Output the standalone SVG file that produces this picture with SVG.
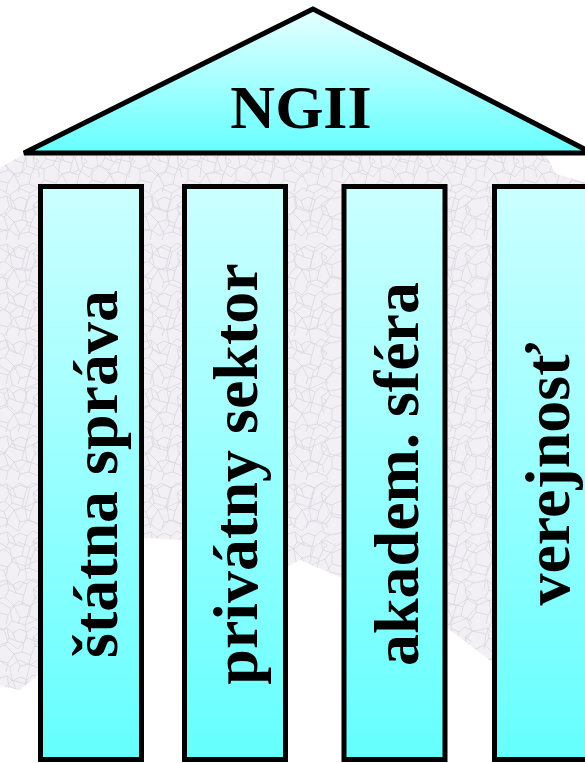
<svg xmlns="http://www.w3.org/2000/svg" width="585" height="763" viewBox="0 0 585 763">
  <defs>
    <linearGradient id="roofGrad" x1="0" y1="0" x2="0" y2="1">
      <stop offset="0" stop-color="#E6FFFF"/>
      <stop offset="1" stop-color="#66FFFF"/>
    </linearGradient>
    <linearGradient id="pillarGrad" x1="0" y1="0" x2="0" y2="1">
      <stop offset="0" stop-color="#CCFFFF"/>
      <stop offset="1" stop-color="#66FFFF"/>
    </linearGradient>
    <pattern id="mapTex" width="48" height="48" patternUnits="userSpaceOnUse">
      <rect width="48" height="48" fill="#F2F0F4"/>
      <path d="M0,6 L7,4 L13,9 L20,5 L27,8 L33,3 L41,7 L48,6 M7,4 L9,14 L5,21 L0,23 M13,9 L16,17 L9,14 M16,17 L24,19 L27,8 M24,19 L22,28 L14,30 L5,21 M22,28 L31,31 L35,22 L33,13 L41,7 M35,22 L44,25 L48,23 M31,31 L29,40 L20,42 L14,30 M29,40 L38,44 L44,36 L44,25 M38,44 L40,48 M20,42 L18,48 M44,36 L48,37 M0,37 L8,39 L14,30 M8,39 L6,48 M33,13 L39,17 L35,22" fill="none" stroke="#DEDBE2" stroke-width="1"/>
    </pattern>
    <pattern id="mapTex2" width="71" height="59" patternUnits="userSpaceOnUse">
      <path d="M0,12 L10,18 L19,11 L30,16 L41,9 L52,15 L63,10 L71,12 M10,18 L12,31 L4,40 L0,38 M12,31 L25,35 L30,16 M25,35 L27,48 L38,52 L46,41 L41,28 L52,15 M41,28 L25,35 M46,41 L60,44 L66,31 L63,10 M66,31 L71,33 M60,44 L58,59 M27,48 L18,59 M4,40 L8,52 L18,59 M38,52 L40,59 M8,52 L0,55" fill="none" stroke="#D8D5DC" stroke-width="0.9" opacity="0.8"/>
    </pattern>
    <style>
      .pillar { fill: url(#pillarGrad); stroke: #000; stroke-width: 5; }
      .roof { fill: url(#roofGrad); stroke: #000; stroke-width: 5; stroke-linejoin: miter; }
      .lbl { font-family: "Liberation Serif", "Times New Roman", serif; font-weight: bold; fill: #000; text-anchor: middle; }
    </style>
  </defs>

  <rect width="585" height="763" fill="#FFFFFF"/>

  <!-- background map texture -->
  <g id="map">
    <path id="mapShape" d="M0,168 L22,155 L546,155 L556,174 L585,182 L585,720 L492,662 L470,645 L447,628 L400,600 L342,578 L300,560 L288,566 L240,550 L182,540 L144,538 L90,600 L38,675 L20,690 L0,686 Z" fill="url(#mapTex)"/>
    <path d="M0,168 L22,155 L546,155 L556,174 L585,182 L585,720 L492,662 L470,645 L447,628 L400,600 L342,578 L300,560 L288,566 L240,550 L182,540 L144,538 L90,600 L38,675 L20,690 L0,686 Z" fill="url(#mapTex2)"/>
  </g>

  <g id="roof">
    <polygon class="roof" points="313,9 24,153 592,153"/>
    <text class="lbl" x="301" y="128" font-size="62">NGII</text>
  </g>

  <g id="pillar-statna-sprava">
    <rect class="pillar" x="40.5" y="186.5" width="101" height="573"/>
    <text class="lbl" font-size="64" transform="translate(117,474) rotate(-90)">štátna správa</text>
  </g>

  <g id="pillar-privatny-sektor">
    <rect class="pillar" x="184.5" y="186.5" width="101" height="573"/>
    <text class="lbl" font-size="64" transform="translate(257,474) rotate(-90)">privátny sektor</text>
  </g>

  <g id="pillar-akadem-sfera">
    <rect class="pillar" x="344" y="186.5" width="101" height="573"/>
    <text class="lbl" font-size="64" transform="translate(418,474) rotate(-90)">akadem. sféra</text>
  </g>

  <g id="pillar-verejnost">
    <rect class="pillar" x="494.5" y="186.5" width="101" height="573"/>
    <text class="lbl" font-size="64" transform="translate(569,474) rotate(-90)">verejnosť</text>
  </g>

  <g id="connectors"></g>
</svg>
